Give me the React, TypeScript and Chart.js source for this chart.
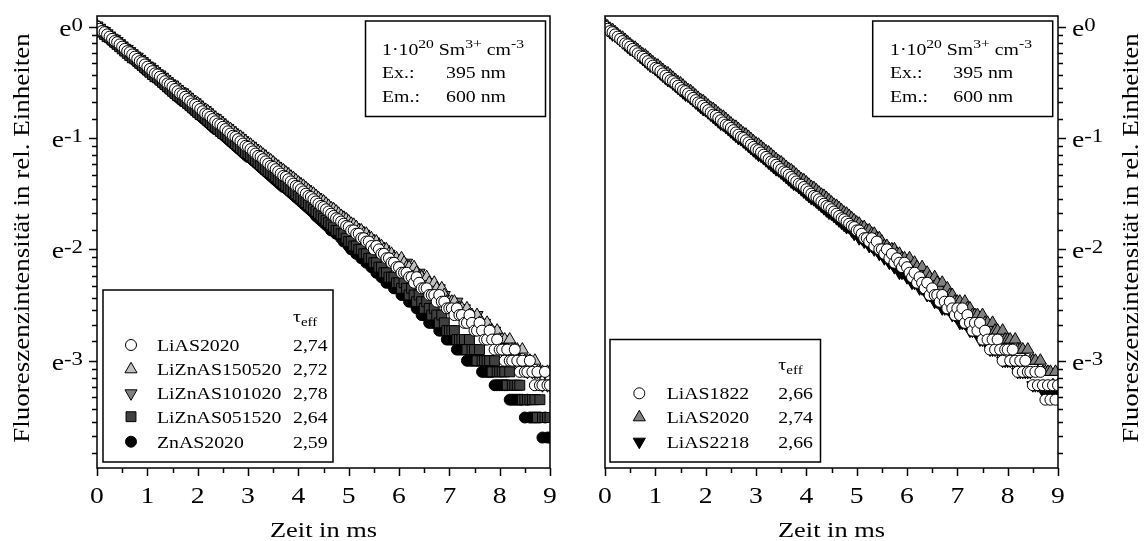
import React, { useEffect, useRef } from 'react';
import { Chart, registerables } from 'chart.js';

Chart.register(...registerables);

// Time axis (ms) – one sample every 0.05 ms
const timeMs = [
  0.00, 0.05, 0.10, 0.15, 0.20, 0.25, 0.30, 0.35, 0.40, 0.45, 0.50, 0.55, 0.60, 0.65, 0.70, 0.75, 0.80, 0.85, 0.90, 0.95,
  1.00, 1.05, 1.10, 1.15, 1.20, 1.25, 1.30, 1.35, 1.40, 1.45, 1.50, 1.55, 1.60, 1.65, 1.70, 1.75, 1.80, 1.85, 1.90, 1.95,
  2.00, 2.05, 2.10, 2.15, 2.20, 2.25, 2.30, 2.35, 2.40, 2.45, 2.50, 2.55, 2.60, 2.65, 2.70, 2.75, 2.80, 2.85, 2.90, 2.95,
  3.00, 3.05, 3.10, 3.15, 3.20, 3.25, 3.30, 3.35, 3.40, 3.45, 3.50, 3.55, 3.60, 3.65, 3.70, 3.75, 3.80, 3.85, 3.90, 3.95,
  4.00, 4.05, 4.10, 4.15, 4.20, 4.25, 4.30, 4.35, 4.40, 4.45, 4.50, 4.55, 4.60, 4.65, 4.70, 4.75, 4.80, 4.85, 4.90, 4.95,
  5.00, 5.05, 5.10, 5.15, 5.20, 5.25, 5.30, 5.35, 5.40, 5.45, 5.50, 5.55, 5.60, 5.65, 5.70, 5.75, 5.80, 5.85, 5.90, 5.95,
  6.00, 6.05, 6.10, 6.15, 6.20, 6.25, 6.30, 6.35, 6.40, 6.45, 6.50, 6.55, 6.60, 6.65, 6.70, 6.75, 6.80, 6.85, 6.90, 6.95,
  7.00, 7.05, 7.10, 7.15, 7.20, 7.25, 7.30, 7.35, 7.40, 7.45, 7.50, 7.55, 7.60, 7.65, 7.70, 7.75, 7.80, 7.85, 7.90, 7.95,
  8.00, 8.05, 8.10, 8.15, 8.20, 8.25, 8.30, 8.35, 8.40, 8.45, 8.50, 8.55, 8.60, 8.65, 8.70, 8.75, 8.80, 8.85, 8.90, 8.95,
  9.00,
];

// Intensities as natural-log exponents (the axis is labelled in powers of e)
const lnLiAS2020 = [
  0.00, -0.02, -0.04, -0.05, -0.07, -0.09, -0.11, -0.13, -0.14, -0.16, -0.18, -0.20, -0.22, -0.23, -0.25, -0.27, -0.29, -0.31, -0.32, -0.34,
  -0.36, -0.38, -0.40, -0.42, -0.43, -0.45, -0.47, -0.49, -0.51, -0.52, -0.54, -0.56, -0.58, -0.60, -0.61, -0.63, -0.65, -0.67, -0.69, -0.70,
  -0.72, -0.74, -0.76, -0.78, -0.79, -0.81, -0.83, -0.85, -0.87, -0.88, -0.90, -0.92, -0.94, -0.96, -0.98, -0.99, -1.01, -1.03, -1.05, -1.07,
  -1.08, -1.10, -1.12, -1.14, -1.16, -1.17, -1.19, -1.21, -1.23, -1.25, -1.26, -1.28, -1.30, -1.32, -1.34, -1.35, -1.37, -1.39, -1.41, -1.43,
  -1.44, -1.46, -1.48, -1.50, -1.52, -1.53, -1.55, -1.57, -1.59, -1.61, -1.62, -1.64, -1.66, -1.68, -1.70, -1.72, -1.73, -1.75, -1.77, -1.79,
  -1.80, -1.83, -1.83, -1.86, -1.86, -1.90, -1.90, -1.93, -1.93, -1.97, -2.00, -1.97, -2.00, -2.04, -2.04, -2.08, -2.08, -2.12, -2.12, -2.16,
  -2.16, -2.21, -2.21, -2.21, -2.25, -2.25, -2.30, -2.25, -2.30, -2.35, -2.35, -2.35, -2.41, -2.41, -2.41, -2.47, -2.41, -2.47, -2.47, -2.53,
  -2.53, -2.53, -2.59, -2.53, -2.59, -2.59, -2.66, -2.66, -2.59, -2.66, -2.73, -2.73, -2.66, -2.73, -2.81, -2.81, -2.73, -2.81, -2.90, -2.81,
  -2.90, -2.90, -3.00, -2.90, -3.00, -3.00, -2.90, -3.00, -3.10, -3.00, -3.10, -3.10, -3.00, -3.10, -3.22, -3.10, -3.22, -3.22, -3.10, -3.22,
  -3.22,
];
const lnLiZnAS150520 = [
  0.01, -0.01, -0.03, -0.04, -0.06, -0.08, -0.10, -0.11, -0.13, -0.15, -0.17, -0.18, -0.20, -0.22, -0.24, -0.25, -0.27, -0.29, -0.31, -0.32,
  -0.34, -0.36, -0.38, -0.40, -0.41, -0.43, -0.45, -0.47, -0.48, -0.50, -0.52, -0.54, -0.55, -0.57, -0.59, -0.61, -0.62, -0.64, -0.66, -0.68,
  -0.69, -0.71, -0.73, -0.75, -0.76, -0.78, -0.80, -0.82, -0.84, -0.85, -0.87, -0.89, -0.91, -0.92, -0.94, -0.96, -0.98, -0.99, -1.01, -1.03,
  -1.05, -1.06, -1.08, -1.10, -1.12, -1.13, -1.15, -1.17, -1.19, -1.20, -1.22, -1.24, -1.26, -1.28, -1.29, -1.31, -1.33, -1.35, -1.36, -1.38,
  -1.40, -1.42, -1.43, -1.45, -1.47, -1.49, -1.50, -1.52, -1.54, -1.56, -1.57, -1.59, -1.61, -1.63, -1.64, -1.66, -1.68, -1.70, -1.72, -1.73,
  -1.75, -1.77, -1.78, -1.80, -1.83, -1.83, -1.86, -1.86, -1.90, -1.90, -1.93, -1.93, -1.97, -1.97, -2.00, -2.00, -2.04, -2.04, -2.08, -2.08,
  -2.12, -2.08, -2.12, -2.16, -2.16, -2.21, -2.16, -2.21, -2.25, -2.25, -2.30, -2.25, -2.30, -2.35, -2.30, -2.35, -2.41, -2.35, -2.41, -2.47,
  -2.47, -2.47, -2.47, -2.53, -2.53, -2.53, -2.59, -2.53, -2.59, -2.59, -2.66, -2.59, -2.66, -2.66, -2.73, -2.66, -2.73, -2.73, -2.81, -2.73,
  -2.81, -2.81, -2.81, -2.90, -2.81, -2.90, -2.90, -2.90, -3.00, -2.90, -3.00, -3.00, -3.00, -3.10, -3.00, -3.10, -3.10, -3.10, -3.22, -3.10,
  -3.10,
];
const lnLiZnAS101020 = [
  0.01, -0.01, -0.03, -0.04, -0.06, -0.08, -0.10, -0.11, -0.13, -0.15, -0.17, -0.19, -0.20, -0.22, -0.24, -0.26, -0.27, -0.29, -0.31, -0.33,
  -0.35, -0.36, -0.38, -0.40, -0.42, -0.43, -0.45, -0.47, -0.49, -0.51, -0.52, -0.54, -0.56, -0.58, -0.59, -0.61, -0.63, -0.65, -0.67, -0.68,
  -0.70, -0.72, -0.74, -0.75, -0.77, -0.79, -0.81, -0.82, -0.84, -0.86, -0.88, -0.90, -0.91, -0.93, -0.95, -0.97, -0.98, -1.00, -1.02, -1.04,
  -1.06, -1.07, -1.09, -1.11, -1.13, -1.14, -1.16, -1.18, -1.20, -1.22, -1.23, -1.25, -1.27, -1.29, -1.30, -1.32, -1.34, -1.36, -1.38, -1.39,
  -1.41, -1.43, -1.45, -1.46, -1.48, -1.50, -1.52, -1.53, -1.55, -1.57, -1.59, -1.61, -1.62, -1.64, -1.66, -1.68, -1.69, -1.71, -1.73, -1.75,
  -1.77, -1.78, -1.80, -1.83, -1.83, -1.86, -1.86, -1.90, -1.90, -1.93, -1.93, -1.97, -1.97, -2.00, -2.00, -2.04, -2.04, -2.08, -2.08, -2.12,
  -2.12, -2.12, -2.16, -2.12, -2.16, -2.21, -2.21, -2.25, -2.21, -2.25, -2.30, -2.30, -2.30, -2.35, -2.35, -2.41, -2.35, -2.41, -2.41, -2.47,
  -2.47, -2.47, -2.53, -2.47, -2.53, -2.59, -2.53, -2.59, -2.59, -2.66, -2.66, -2.59, -2.66, -2.73, -2.66, -2.73, -2.73, -2.81, -2.73, -2.81,
  -2.81, -2.90, -2.81, -2.90, -2.90, -2.90, -3.00, -2.90, -3.00, -3.00, -3.00, -3.10, -3.00, -3.10, -3.10, -3.10, -3.10, -3.22, -3.10, -3.22,
  -3.22,
];
const lnLiZnAS051520 = [
  -0.01, -0.03, -0.05, -0.07, -0.09, -0.10, -0.12, -0.14, -0.16, -0.18, -0.20, -0.22, -0.24, -0.26, -0.28, -0.29, -0.31, -0.33, -0.35, -0.37,
  -0.39, -0.41, -0.43, -0.45, -0.46, -0.48, -0.50, -0.52, -0.54, -0.56, -0.58, -0.60, -0.62, -0.63, -0.65, -0.67, -0.69, -0.71, -0.73, -0.75,
  -0.77, -0.79, -0.80, -0.82, -0.84, -0.86, -0.88, -0.90, -0.92, -0.94, -0.96, -0.97, -0.99, -1.01, -1.03, -1.05, -1.07, -1.09, -1.11, -1.13,
  -1.14, -1.16, -1.18, -1.20, -1.22, -1.24, -1.26, -1.28, -1.30, -1.31, -1.33, -1.35, -1.37, -1.39, -1.41, -1.43, -1.45, -1.47, -1.48, -1.50,
  -1.52, -1.54, -1.56, -1.58, -1.60, -1.62, -1.64, -1.66, -1.68, -1.70, -1.72, -1.74, -1.76, -1.78, -1.80, -1.83, -1.83, -1.86, -1.86, -1.90,
  -1.93, -1.93, -1.97, -1.97, -2.00, -2.00, -2.04, -2.04, -2.08, -2.08, -2.12, -2.12, -2.16, -2.16, -2.21, -2.21, -2.25, -2.25, -2.25, -2.30,
  -2.30, -2.35, -2.30, -2.35, -2.41, -2.35, -2.41, -2.47, -2.41, -2.47, -2.53, -2.47, -2.53, -2.59, -2.53, -2.59, -2.66, -2.59, -2.66, -2.73,
  -2.73, -2.73, -2.73, -2.81, -2.81, -2.81, -2.81, -2.90, -2.81, -2.90, -2.90, -3.00, -2.90, -3.00, -3.00, -3.00, -3.00, -3.10, -3.00, -3.10,
  -3.10, -3.10, -3.10, -3.22, -3.10, -3.22, -3.22, -3.22, -3.22, -3.35, -3.35, -3.35, -3.35, -3.35, -3.35, -3.51, -3.35, -3.51, -3.51, -3.51,
  -3.51,
];
const lnZnAS2020 = [
  -0.01, -0.03, -0.05, -0.07, -0.09, -0.11, -0.13, -0.15, -0.16, -0.18, -0.20, -0.22, -0.24, -0.26, -0.28, -0.30, -0.32, -0.34, -0.36, -0.38,
  -0.40, -0.41, -0.43, -0.45, -0.47, -0.49, -0.51, -0.53, -0.55, -0.57, -0.59, -0.61, -0.63, -0.65, -0.67, -0.68, -0.70, -0.72, -0.74, -0.76,
  -0.78, -0.80, -0.82, -0.84, -0.86, -0.88, -0.90, -0.92, -0.93, -0.95, -0.97, -0.99, -1.01, -1.03, -1.05, -1.07, -1.09, -1.11, -1.13, -1.15,
  -1.17, -1.18, -1.20, -1.22, -1.24, -1.26, -1.28, -1.30, -1.32, -1.34, -1.36, -1.38, -1.40, -1.42, -1.44, -1.45, -1.47, -1.49, -1.51, -1.53,
  -1.55, -1.57, -1.59, -1.61, -1.63, -1.65, -1.67, -1.70, -1.72, -1.74, -1.76, -1.78, -1.80, -1.83, -1.83, -1.86, -1.86, -1.90, -1.93, -1.93,
  -1.97, -2.00, -2.00, -2.04, -2.04, -2.08, -2.08, -2.12, -2.12, -2.16, -2.16, -2.21, -2.21, -2.25, -2.25, -2.30, -2.30, -2.30, -2.35, -2.35,
  -2.35, -2.41, -2.41, -2.41, -2.47, -2.47, -2.47, -2.53, -2.53, -2.59, -2.59, -2.59, -2.66, -2.66, -2.66, -2.66, -2.73, -2.73, -2.73, -2.81,
  -2.81, -2.81, -2.81, -2.90, -2.90, -2.90, -2.90, -3.00, -3.00, -3.00, -3.00, -3.00, -3.00, -3.10, -3.10, -3.10, -3.10, -3.10, -3.22, -3.22,
  -3.22, -3.22, -3.22, -3.22, -3.35, -3.35, -3.35, -3.35, -3.35, -3.35, -3.51, -3.35, -3.51, -3.51, -3.51, -3.51, -3.51, -3.69, -3.51, -3.69,
  -3.69,
];

const lnLiAS1822 = [
  0.00, -0.02, -0.04, -0.05, -0.07, -0.09, -0.11, -0.13, -0.15, -0.16, -0.18, -0.20, -0.22, -0.24, -0.26, -0.27, -0.29, -0.31, -0.33, -0.35,
  -0.37, -0.38, -0.40, -0.42, -0.44, -0.46, -0.48, -0.49, -0.51, -0.53, -0.55, -0.57, -0.58, -0.60, -0.62, -0.64, -0.66, -0.68, -0.69, -0.71,
  -0.73, -0.75, -0.77, -0.79, -0.80, -0.82, -0.84, -0.86, -0.88, -0.89, -0.91, -0.93, -0.95, -0.97, -0.99, -1.00, -1.02, -1.04, -1.06, -1.08,
  -1.10, -1.11, -1.13, -1.15, -1.17, -1.19, -1.21, -1.22, -1.24, -1.26, -1.28, -1.30, -1.31, -1.33, -1.35, -1.37, -1.39, -1.41, -1.42, -1.44,
  -1.46, -1.48, -1.50, -1.52, -1.53, -1.55, -1.57, -1.59, -1.61, -1.62, -1.64, -1.66, -1.68, -1.70, -1.72, -1.73, -1.75, -1.77, -1.79, -1.80,
  -1.83, -1.83, -1.86, -1.90, -1.90, -1.93, -1.90, -1.97, -1.93, -2.00, -2.00, -2.04, -2.00, -2.08, -2.04, -2.12, -2.08, -2.12, -2.16, -2.12,
  -2.16, -2.21, -2.25, -2.21, -2.30, -2.25, -2.30, -2.35, -2.30, -2.41, -2.35, -2.41, -2.41, -2.47, -2.41, -2.47, -2.53, -2.47, -2.53, -2.59,
  -2.53, -2.59, -2.53, -2.66, -2.59, -2.66, -2.73, -2.66, -2.73, -2.66, -2.81, -2.73, -2.81, -2.90, -2.81, -2.90, -2.81, -2.90, -3.00, -2.90,
  -2.90, -3.00, -2.90, -3.00, -3.10, -3.00, -3.10, -3.00, -3.10, -3.10, -3.22, -3.10, -3.22, -3.10, -3.22, -3.35, -3.22, -3.35, -3.22, -3.35,
  -3.22,
];
const lnLiAS2020b = [
  0.02, 0.00, -0.02, -0.03, -0.05, -0.07, -0.09, -0.10, -0.12, -0.14, -0.16, -0.18, -0.19, -0.21, -0.23, -0.25, -0.26, -0.28, -0.30, -0.32,
  -0.34, -0.35, -0.37, -0.39, -0.41, -0.42, -0.44, -0.46, -0.48, -0.50, -0.51, -0.53, -0.55, -0.57, -0.58, -0.60, -0.62, -0.64, -0.66, -0.67,
  -0.69, -0.71, -0.73, -0.74, -0.76, -0.78, -0.80, -0.81, -0.83, -0.85, -0.87, -0.89, -0.90, -0.92, -0.94, -0.96, -0.97, -0.99, -1.01, -1.03,
  -1.05, -1.06, -1.08, -1.10, -1.12, -1.13, -1.15, -1.17, -1.19, -1.21, -1.22, -1.24, -1.26, -1.28, -1.29, -1.31, -1.33, -1.35, -1.37, -1.38,
  -1.40, -1.42, -1.44, -1.45, -1.47, -1.49, -1.51, -1.52, -1.54, -1.56, -1.58, -1.60, -1.61, -1.63, -1.65, -1.67, -1.68, -1.70, -1.72, -1.74,
  -1.76, -1.77, -1.80, -1.80, -1.83, -1.83, -1.86, -1.86, -1.90, -1.90, -1.93, -1.97, -1.97, -2.00, -2.00, -2.00, -2.04, -2.04, -2.08, -2.08,
  -2.12, -2.08, -2.16, -2.12, -2.16, -2.21, -2.16, -2.25, -2.21, -2.25, -2.30, -2.25, -2.30, -2.35, -2.30, -2.41, -2.35, -2.41, -2.41, -2.47,
  -2.47, -2.47, -2.53, -2.47, -2.53, -2.53, -2.59, -2.59, -2.59, -2.66, -2.59, -2.66, -2.66, -2.73, -2.66, -2.73, -2.73, -2.81, -2.73, -2.81,
  -2.81, -2.81, -2.90, -2.81, -2.90, -2.90, -2.90, -3.00, -2.90, -3.00, -3.00, -3.00, -3.10, -3.00, -3.10, -3.10, -3.10, -3.10, -3.22, -3.10,
  -3.22,
];
const lnLiAS2218 = [
  -0.01, -0.03, -0.05, -0.07, -0.08, -0.10, -0.12, -0.14, -0.16, -0.18, -0.20, -0.21, -0.23, -0.25, -0.27, -0.29, -0.31, -0.33, -0.35, -0.36,
  -0.38, -0.40, -0.42, -0.44, -0.46, -0.48, -0.49, -0.51, -0.53, -0.55, -0.57, -0.59, -0.61, -0.62, -0.64, -0.66, -0.68, -0.70, -0.72, -0.74,
  -0.75, -0.77, -0.79, -0.81, -0.83, -0.85, -0.87, -0.88, -0.90, -0.92, -0.94, -0.96, -0.98, -1.00, -1.01, -1.03, -1.05, -1.07, -1.09, -1.11,
  -1.13, -1.15, -1.16, -1.18, -1.20, -1.22, -1.24, -1.26, -1.28, -1.29, -1.31, -1.33, -1.35, -1.37, -1.39, -1.41, -1.42, -1.44, -1.46, -1.48,
  -1.50, -1.52, -1.54, -1.55, -1.57, -1.59, -1.61, -1.63, -1.65, -1.67, -1.68, -1.70, -1.72, -1.74, -1.76, -1.78, -1.80, -1.80, -1.83, -1.86,
  -1.86, -1.90, -1.90, -1.93, -1.93, -1.97, -1.97, -2.00, -2.00, -2.04, -2.04, -2.08, -2.08, -2.12, -2.12, -2.16, -2.16, -2.21, -2.21, -2.21,
  -2.25, -2.25, -2.30, -2.30, -2.30, -2.35, -2.35, -2.35, -2.41, -2.41, -2.41, -2.47, -2.47, -2.47, -2.53, -2.53, -2.53, -2.53, -2.59, -2.59,
  -2.59, -2.66, -2.66, -2.66, -2.66, -2.73, -2.73, -2.73, -2.73, -2.81, -2.81, -2.81, -2.81, -2.90, -2.90, -2.90, -2.90, -2.90, -3.00, -3.00,
  -3.00, -3.00, -3.00, -3.00, -3.10, -3.10, -3.10, -3.10, -3.10, -3.10, -3.22, -3.22, -3.22, -3.22, -3.22, -3.31, -3.31, -3.31, -3.31, -3.31,
  -3.31,
];

// Legend entries: sample names and effective lifetimes
const leftNames = ['LiAS2020', 'LiZnAS150520', 'LiZnAS101020', 'LiZnAS051520', 'ZnAS2020'];
const leftTau = ['2,74', '2,72', '2,78', '2,64', '2,59'];
const rightNames = ['LiAS1822', 'LiAS2020', 'LiAS2218'];
const rightTau = ['2,66', '2,74', '2,66'];

// Axis ticks
const xTickValues = [0, 1, 2, 3, 4, 5, 6, 7, 8, 9];
const yTickExponents = [0, -1, -2, -3];

const SERIF = '"Liberation Serif", "Times New Roman", Times, serif';
const SX = 1.2; // horizontal widening of the serif lettering

type Shape = 'circle' | 'triangle' | 'rect';
interface Marker { shape: Shape; r: number; fill: string; rotation?: number }

const openCircle: Marker = { shape: 'circle', r: 5.5, fill: '#ffffff' };
const lightUp: Marker = { shape: 'triangle', r: 7, fill: '#c0c0c0', rotation: 0 };
const grayDown: Marker = { shape: 'triangle', r: 7, fill: '#808080', rotation: 180 };
const darkSquare: Marker = { shape: 'rect', r: 7, fill: '#404040' };
const blackCircle: Marker = { shape: 'circle', r: 5.5, fill: '#000000' };
const grayUp: Marker = { shape: 'triangle', r: 7, fill: '#808080', rotation: 0 };
const blackDown: Marker = { shape: 'triangle', r: 7, fill: '#000000', rotation: 180 };

interface Series { name: string; tau: string; ln: number[]; marker: Marker }

interface PanelLayout {
  side: 'left' | 'right';
  padding: { left: number; right: number; top: number; bottom: number };
  yLabelX: number;
  yTitleX: number;
  legendBox: [number, number, number, number];
  tauPos: [number, number];
  symX: number;
  nameX: number;
  valX: number;
  rowY: number[];
  infoBox: [number, number, number, number];
  infoX: number;
  infoValX: number;
  infoY: number[];
}

type Seg = { t: string; v?: 'sup' | 'sub' };
interface RichOpt { size: number; small: number; raise: number; drop: number; align: 'left' | 'right' | 'center'; sx: number }

function drawRich(ctx: CanvasRenderingContext2D, segs: Seg[], x: number, y: number, o: RichOpt) {
  const widths = segs.map((s) => {
    ctx.font = `${s.v ? o.small : o.size}px ${SERIF}`;
    return ctx.measureText(s.t).width * o.sx;
  });
  const total = widths.reduce((a, b) => a + b, 0);
  let cx = o.align === 'left' ? x : o.align === 'right' ? x - total : x - total / 2;
  segs.forEach((s, i) => {
    ctx.save();
    ctx.font = `${s.v ? o.small : o.size}px ${SERIF}`;
    ctx.textAlign = 'left';
    ctx.textBaseline = 'alphabetic';
    ctx.fillStyle = '#000';
    const dy = s.v === 'sup' ? -o.raise : s.v === 'sub' ? o.drop : 0;
    ctx.translate(cx, y + dy);
    ctx.scale(o.sx, 1);
    ctx.fillText(s.t, 0, 0);
    ctx.restore();
    cx += widths[i];
  });
}

function drawMarker(ctx: CanvasRenderingContext2D, m: Marker, x: number, y: number) {
  ctx.save();
  ctx.beginPath();
  if (m.shape === 'circle') {
    ctx.arc(x, y, m.r, 0, Math.PI * 2);
  } else if (m.shape === 'rect') {
    const h = m.r * Math.SQRT1_2;
    ctx.rect(x - h, y - h, 2 * h, 2 * h);
  } else {
    let a = ((m.rotation || 0) * Math.PI) / 180;
    for (let i = 0; i < 3; i++) {
      const px = x + Math.sin(a) * m.r;
      const py = y - Math.cos(a) * m.r;
      if (i === 0) ctx.moveTo(px, py);
      else ctx.lineTo(px, py);
      a += (2 * Math.PI) / 3;
    }
    ctx.closePath();
  }
  ctx.fillStyle = m.fill;
  ctx.fill();
  ctx.lineWidth = 1;
  ctx.strokeStyle = '#000';
  ctx.stroke();
  ctx.restore();
}

function framePlugin(layout: PanelLayout, series: Series[]) {
  return {
    id: 'frameAxes',
    afterDraw(chart: Chart) {
      const { ctx, chartArea: a } = chart;
      const xs = chart.scales.x;
      const ys = chart.scales.y;
      const yMin = ys.min as number;
      ctx.save();
      ctx.strokeStyle = '#000';
      ctx.fillStyle = '#000';
      ctx.lineWidth = 1.5;
      ctx.lineCap = 'butt';

      // frame
      ctx.strokeRect(a.left, a.top, a.right - a.left, a.bottom - a.top);

      // x ticks and labels
      ctx.beginPath();
      xTickValues.forEach((v, i) => {
        const px = Math.round(xs.getPixelForValue(v)) + 0.5;
        ctx.moveTo(px, a.bottom);
        ctx.lineTo(px, a.bottom + 8);
        if (i < xTickValues.length - 1) {
          const pm = Math.round(xs.getPixelForValue(v + 0.5)) + 0.5;
          ctx.moveTo(pm, a.bottom);
          ctx.lineTo(pm, a.bottom + 5);
        }
      });
      ctx.stroke();
      xTickValues.forEach((v) => {
        drawRich(ctx, [{ t: String(v) }], xs.getPixelForValue(v), 503, {
          size: 23, small: 16, raise: 0, drop: 0, align: 'center', sx: SX,
        });
      });

      // y ticks (major at powers of e, 8 linear minor ticks per decade)
      const dir = layout.side === 'left' ? -1 : 1;
      const ax = layout.side === 'left' ? a.left : a.right;
      ctx.beginPath();
      yTickExponents.forEach((n) => {
        const hi = Math.exp(n);
        const lo = Math.exp(n - 1);
        const py = Math.round(ys.getPixelForValue(hi)) + 0.5;
        ctx.moveTo(ax, py);
        ctx.lineTo(ax + dir * 8, py);
        for (let k = 1; k <= 8; k++) {
          const v = hi - (k * (hi - lo)) / 9;
          if (v < yMin) continue;
          const pm = Math.round(ys.getPixelForValue(v)) + 0.5;
          ctx.moveTo(ax, pm);
          ctx.lineTo(ax + dir * 5, pm);
        }
      });
      ctx.stroke();
      yTickExponents.forEach((n) => {
        const py = ys.getPixelForValue(Math.exp(n));
        drawRich(ctx, [{ t: 'e' }, { t: String(n), v: 'sup' }], layout.yLabelX, py + 9, {
          size: 23, small: 19, raise: 5, drop: 0, align: layout.side === 'left' ? 'right' : 'left', sx: SX,
        });
      });

      // axis titles
      drawRich(ctx, [{ t: 'Zeit in ms' }], (a.left + a.right) / 2, 537, {
        size: 22, small: 16, raise: 0, drop: 0, align: 'center', sx: SX,
      });
      ctx.save();
      ctx.translate(layout.yTitleX, 238);
      ctx.rotate(-Math.PI / 2);
      ctx.scale(SX, 1);
      ctx.font = `22.5px ${SERIF}`;
      ctx.textAlign = 'center';
      ctx.textBaseline = 'alphabetic';
      ctx.fillText('Fluoreszenzintensität in rel. Einheiten', 0, 0);
      ctx.restore();

      // sample legend
      const [lx0, ly0, lx1, ly1] = layout.legendBox;
      ctx.fillStyle = '#fff';
      ctx.fillRect(lx0, ly0, lx1 - lx0, ly1 - ly0);
      ctx.strokeRect(lx0, ly0, lx1 - lx0, ly1 - ly0);
      const txt: RichOpt = { size: 16.5, small: 12.5, raise: 6, drop: 4, align: 'left', sx: SX };
      drawRich(ctx, [{ t: 'τ' }, { t: 'eff', v: 'sub' }], layout.tauPos[0], layout.tauPos[1], txt);
      series.forEach((s, i) => {
        const cy = layout.rowY[i];
        drawMarker(ctx, s.marker, layout.symX, cy);
        drawRich(ctx, [{ t: s.name }], layout.nameX, cy + 6, txt);
        drawRich(ctx, [{ t: s.tau }], layout.valX, cy + 6, txt);
      });

      // excitation / emission box
      const [ix0, iy0, ix1, iy1] = layout.infoBox;
      ctx.fillStyle = '#fff';
      ctx.fillRect(ix0, iy0, ix1 - ix0, iy1 - iy0);
      ctx.strokeRect(ix0, iy0, ix1 - ix0, iy1 - iy0);
      const info: RichOpt = { size: 16.5, small: 13, raise: 6.5, drop: 4, align: 'left', sx: SX };
      drawRich(ctx, [
        { t: '1·10' }, { t: '20', v: 'sup' }, { t: ' Sm' }, { t: '3+', v: 'sup' }, { t: ' cm' }, { t: '-3', v: 'sup' },
      ], layout.infoX, layout.infoY[0], info);
      drawRich(ctx, [{ t: 'Ex.:' }], layout.infoX, layout.infoY[1], info);
      drawRich(ctx, [{ t: '395 nm' }], layout.infoValX, layout.infoY[1], info);
      drawRich(ctx, [{ t: 'Em.:' }], layout.infoX, layout.infoY[2], info);
      drawRich(ctx, [{ t: '600 nm' }], layout.infoValX, layout.infoY[2], info);

      ctx.restore();
    },
  };
}

const leftSeries: Series[] = [
  { name: leftNames[0], tau: leftTau[0], ln: lnLiAS2020, marker: openCircle },
  { name: leftNames[1], tau: leftTau[1], ln: lnLiZnAS150520, marker: lightUp },
  { name: leftNames[2], tau: leftTau[2], ln: lnLiZnAS101020, marker: grayDown },
  { name: leftNames[3], tau: leftTau[3], ln: lnLiZnAS051520, marker: darkSquare },
  { name: leftNames[4], tau: leftTau[4], ln: lnZnAS2020, marker: blackCircle },
];
const rightSeries: Series[] = [
  { name: rightNames[0], tau: rightTau[0], ln: lnLiAS1822, marker: openCircle },
  { name: rightNames[1], tau: rightTau[1], ln: lnLiAS2020b, marker: grayUp },
  { name: rightNames[2], tau: rightTau[2], ln: lnLiAS2218, marker: blackDown },
];

const PANEL_W = 573;
const PANEL_H = 541;

const leftLayout: PanelLayout = {
  side: 'left',
  padding: { left: 97, right: 23, top: 16, bottom: 73 },
  yLabelX: 83,
  yTitleX: 28.5,
  legendBox: [103, 290, 333, 462],
  tauPos: [293, 322],
  symX: 131,
  nameX: 157,
  valX: 293,
  rowY: [345, 369.3, 393.3, 416.7, 441.7],
  infoBox: [365.5, 21, 545.5, 116.5],
  infoX: 382,
  infoValX: 446,
  infoY: [54.5, 78, 102],
};
const rightLayout: PanelLayout = {
  side: 'right',
  padding: { left: 32, right: 88, top: 16, bottom: 73 },
  yLabelX: 499,
  yTitleX: 565,
  legendBox: [37, 339.5, 247.5, 462],
  tauPos: [205.3, 370],
  symX: 66.3,
  nameX: 93.7,
  valX: 205.3,
  rowY: [393.3, 417.3, 441.7],
  infoBox: [299.7, 21, 479.7, 116.5],
  infoX: 317,
  infoValX: 380.3,
  infoY: [54.5, 78, 102],
};

function DecayPanel({ series, layout, left }: { series: Series[]; layout: PanelLayout; left: number }) {
  const ref = useRef<HTMLCanvasElement>(null);
  useEffect(() => {
    const canvas = ref.current;
    if (!canvas) return;
    const chart = new Chart(canvas, {
      type: 'scatter',
      data: {
        datasets: series.map((s, i) => ({
          label: s.name,
          data: timeMs.map((t, k) => ({ x: t, y: Math.exp(s.ln[k]) })),
          pointStyle: s.marker.shape,
          pointRotation: s.marker.rotation || 0,
          pointRadius: s.marker.r,
          backgroundColor: s.marker.fill,
          borderColor: '#000000',
          borderWidth: 1,
          showLine: false,
          clip: 0,
          order: i,
        })),
      },
      options: {
        responsive: false,
        animation: false,
        devicePixelRatio: 1,
        events: [],
        layout: { padding: layout.padding },
        scales: {
          x: { type: 'linear', min: 0, max: 9, display: false },
          y: { type: 'logarithmic', min: 0.019, max: 1.1, display: false },
        },
        plugins: { legend: { display: false }, tooltip: { enabled: false } },
      },
      plugins: [framePlugin(layout, series)],
    });
    return () => chart.destroy();
  }, [series, layout]);
  return (
    <canvas
      ref={ref}
      width={PANEL_W}
      height={PANEL_H}
      style={{ position: 'absolute', left, top: 0, width: PANEL_W, height: PANEL_H }}
    />
  );
}

export default function App() {
  return (
    <div style={{ position: 'fixed', left: 0, top: 0, width: 1146, height: 541, background: '#fff', overflow: 'hidden' }}>
      <DecayPanel series={leftSeries} layout={leftLayout} left={0} />
      <DecayPanel series={rightSeries} layout={rightLayout} left={PANEL_W} />
    </div>
  );
}
